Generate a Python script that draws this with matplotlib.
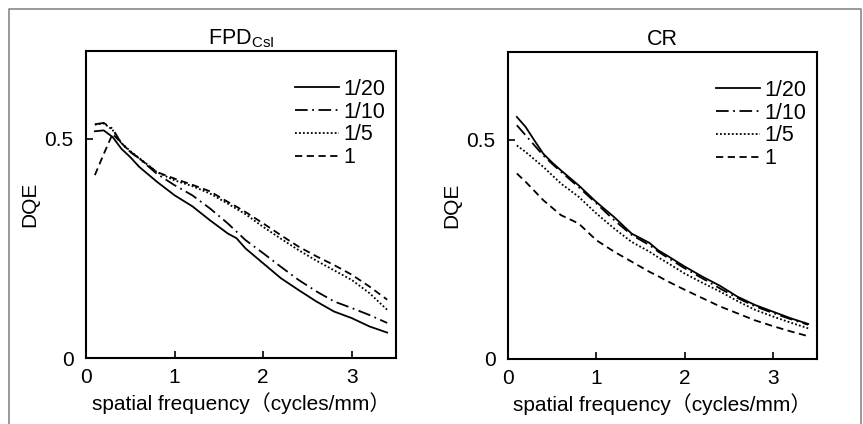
import matplotlib
matplotlib.use('Agg')
import matplotlib.pyplot as plt
from matplotlib.lines import Line2D

plt.rcParams['font.family'] = ['Liberation Sans', 'Noto Sans CJK JP']

# spatial frequency (cycles/mm)
freq = [0.1, 0.2, 0.3, 0.4, 0.5, 0.6, 0.8, 1.0, 1.2, 1.4, 1.6, 1.7, 1.8,
        2.0, 2.2, 2.4, 2.6, 2.8, 3.0, 3.2, 3.4]

# FPD CsI
fpd_1_20 = [0.517, 0.519, 0.504, 0.477, 0.458, 0.436, 0.402, 0.371, 0.346, 0.314, 0.284,
            0.273, 0.250, 0.216, 0.182, 0.155, 0.129, 0.106, 0.091, 0.072, 0.058]
fpd_1_10 = [0.533, 0.536, 0.523, 0.489, 0.470, 0.455, 0.420, 0.394, 0.371, 0.341, 0.307,
            0.288, 0.269, 0.239, 0.208, 0.178, 0.152, 0.129, 0.114, 0.098, 0.080]
fpd_1_5 = [0.532, 0.535, 0.520, 0.490, 0.472, 0.456, 0.424, 0.405, 0.392, 0.375, 0.352,
           0.340, 0.328, 0.299, 0.272, 0.246, 0.222, 0.200, 0.178, 0.148, 0.110]
fpd_1 = [0.417, 0.465, 0.511, 0.490, 0.470, 0.455, 0.424, 0.409, 0.395, 0.380, 0.356,
         0.345, 0.333, 0.307, 0.280, 0.254, 0.232, 0.212, 0.190, 0.163, 0.133]

# CR
cr_1_20 = [0.552, 0.529, 0.498, 0.468, 0.448, 0.430, 0.396, 0.358, 0.324, 0.286, 0.265,
           0.248, 0.236, 0.211, 0.188, 0.167, 0.142, 0.123, 0.108, 0.093, 0.080]
cr_1_10 = [0.533, 0.510, 0.487, 0.464, 0.445, 0.427, 0.392, 0.355, 0.317, 0.283, 0.260,
           0.245, 0.232, 0.207, 0.184, 0.161, 0.139, 0.120, 0.105, 0.091, 0.078]
cr_1_5 = [0.487, 0.472, 0.455, 0.438, 0.419, 0.400, 0.370, 0.332, 0.298, 0.267, 0.245,
          0.232, 0.220, 0.195, 0.174, 0.154, 0.132, 0.112, 0.097, 0.083, 0.070]
cr_1 = [0.423, 0.404, 0.383, 0.362, 0.345, 0.328, 0.309, 0.271, 0.245, 0.222, 0.199,
        0.189, 0.178, 0.158, 0.139, 0.120, 0.104, 0.088, 0.075, 0.063, 0.052]

labels = ['1/20', '1/10', '1/5', '1']
styles = ['-', (0, (7, 2.5, 1, 2.5)), (0, (1, 1.2)), (0, (4, 2.5))]

fig = plt.figure(figsize=(8.63, 4.24), dpi=100)

# grey outer frame (left, top, right)
fig.add_artist(Line2D([9 / 863, 9 / 863, 861 / 863, 861 / 863],
                      [0, 1 - 9 / 424, 1 - 9 / 424, 0],
                      transform=fig.transFigure, color='#888888', lw=1.2))

ax1 = fig.add_axes([86 / 863, 66 / 424, 310 / 863, 307 / 424])
ax2 = fig.add_axes([508 / 863, 65 / 424, 309 / 863, 307 / 424])

panels = [
    (ax1, [fpd_1_20, fpd_1_10, fpd_1_5, fpd_1], r'FPD$_{\mathregular{CsI}}$'),
    (ax2, [cr_1_20, cr_1_10, cr_1_5, cr_1], 'CR'),
]

for ax, series, title in panels:
    for vals, lab, ls in zip(series, labels, styles):
        ax.plot(freq, vals, color='black', linestyle=ls, linewidth=1.3, label=lab)
    ax.set_xlim(0, 3.5)
    ax.set_ylim(0, 0.7)
    ax.set_xticks([0, 1, 2, 3])
    ax.set_yticks([0, 0.5])
    ax.set_yticklabels(['0', '0.5'])
    ax.tick_params(direction='in', length=5, width=1.2, labelsize=15)
    ax.tick_params(axis='x', pad=7)
    ax.tick_params(axis='y', pad=9)
    for s in ax.spines.values():
        s.set_linewidth(1.5)
    ax.set_ylabel('DQE', fontsize=15, labelpad=4)
    ax.set_xlabel('spatial frequency（cycles/mm）', fontsize=15, labelpad=4)
    ax.set_title(title, fontsize=15.5, pad=5)
    ax.legend(loc='upper right', bbox_to_anchor=(1.02, 0.965), frameon=False,
              fontsize=15.5, handlelength=2.05, handletextpad=0.2,
              labelspacing=0.08, borderaxespad=0.4)

plt.savefig('out.png', dpi=100)
plt.close()
